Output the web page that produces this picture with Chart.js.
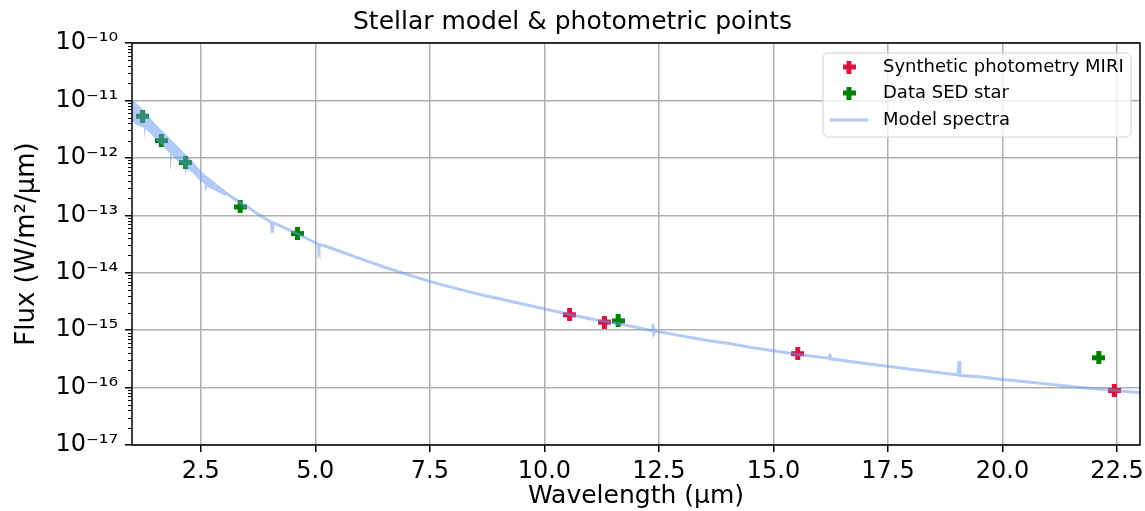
<!DOCTYPE html>
<html>
<head>
<meta charset="utf-8">
<script src="https://cdn.jsdelivr.net/npm/chart.js@4.4.1/dist/chart.umd.min.js"></script>
<style>
  html, body { margin: 0; padding: 0; background: #fff; }
  #wrap { width: 1145px; height: 511px; position: relative; }
</style>
</head>
<body>
<div id="wrap"><canvas id="sedChart"></canvas></div>
<script>
// synthetic MIRI photometry (wavelength in um, flux in W/m2/um)
const synthWave = [10.55, 11.31, 15.53, 22.44];
const synthFlux = [1.85e-15, 1.38e-15, 3.9e-16, 8.9e-17];

// observed SED points of the star
const sedWave = [1.23, 1.64, 2.17, 3.36, 4.61, 11.61, 22.10];
const sedFlux = [5.3e-12, 2.0e-12, 8.3e-13, 1.4e-13, 4.8e-14, 1.45e-15, 3.3e-16];

// model spectrum below 3 um is a dense forest of lines: read as upper / lower envelope (log10 flux)
const bandUpperWave = [1.00, 1.15, 1.30, 1.50, 1.74, 2.00, 2.32, 2.54, 2.80, 3.05];
const bandUpperLogFlux = [-10.98, -11.09, -11.21, -11.40, -11.59, -11.80, -12.06, -12.26, -12.42, -12.58];
const bandLowerWave = [
  1.00, 1.08, 1.26, 1.28, 1.30, 1.41, 1.555, 1.74, 1.83, 1.846, 1.87, 1.955,
  1.98, 2.14, 2.15, 2.17, 2.19, 2.32, 2.46, 2.58, 2.61, 2.64, 2.755, 2.80, 2.97, 3.05
];
const bandLowerLogFlux = [
  -11.36, -11.42, -11.48, -11.68, -11.50, -11.59, -11.71, -11.85, -11.92, -12.20, -11.95, -12.03,
  -12.05, -12.14, -12.15, -12.32, -12.20, -12.26, -12.38, -12.45, -12.61, -12.50, -12.55, -12.56, -12.64, -12.66
];

// model spectrum above 3 um (log10 flux)
const modelWave = [
  3.05, 3.44, 3.46, 3.48, 3.77, 4.04, 4.06, 4.08, 4.50, 5.06,
  5.08, 5.10, 5.23, 6.00, 6.50, 7.00, 7.50, 8.00, 8.75, 9.00,
  9.50, 10.00, 10.50, 11.00, 11.50, 12.00, 12.35, 12.37, 12.39, 12.41,
  12.50, 13.00, 13.50, 14.00, 14.50, 15.00, 15.50, 16.00, 16.22, 16.23,
  16.25, 17.00, 17.50, 18.00, 18.50, 19.03, 19.05, 19.07, 19.50, 20.00,
  20.50, 21.00, 21.50, 22.00, 22.50, 23.00
];
const modelLogFlux = [
  -12.61, -12.82, -12.86, -12.83, -12.99, -13.12, -13.30, -13.13, -13.28, -13.50,
  -13.57, -13.51, -13.54, -13.76, -13.90, -14.03, -14.15, -14.26, -14.41, -14.45,
  -14.54, -14.63, -14.72, -14.80, -14.87, -14.95, -15.01, -14.89, -15.05, -15.01,
  -15.03, -15.10, -15.17, -15.23, -15.30, -15.36, -15.42, -15.47, -15.49, -15.41,
  -15.50, -15.58, -15.63, -15.68, -15.73, -15.78, -15.54, -15.79, -15.81, -15.86,
  -15.90, -15.94, -15.98, -16.02, -16.05, -16.09
];

const xTickValues = [2.5, 5.0, 7.5, 10.0, 12.5, 15.0, 17.5, 20.0, 22.5];
const yTickValues = [1e-17, 1e-16, 1e-15, 1e-14, 1e-13, 1e-12, 1e-11, 1e-10];
const yTickLabels = ['10⁻¹⁷', '10⁻¹⁶', '10⁻¹⁵', '10⁻¹⁴', '10⁻¹³', '10⁻¹²', '10⁻¹¹', '10⁻¹⁰'];

const seriesNames = ['Synthetic photometry MIRI', 'Data SED star', 'Model spectra'];
const red = '#DC143C';
const green = '#008000';
const modelColor = 'rgba(100,149,237,0.5)';

Chart.defaults.font.family = 'DejaVu Sans';
Chart.defaults.color = '#000';

// filled plus marker like matplotlib "P"
function plusMarker(color) {
  const c = document.createElement('canvas');
  const s = 13, t = 5;
  c.width = s; c.height = s;
  const g = c.getContext('2d');
  g.fillStyle = color;
  const a = (s - t) / 2;
  g.fillRect(a, 0, t, s);
  g.fillRect(0, a, s, t);
  return c;
}
const redPlus = plusMarker(red);
const greenPlus = plusMarker(green);

const toPoints = (xs, ys) => xs.map((x, i) => ({ x: x, y: ys[i] }));
const fromLog = (xs, ls) => toPoints(xs, ls.map(v => Math.pow(10, v)));

// closed outline of the line-forest band: upper edge forward, lower edge back
const bandPoints = fromLog(bandUpperWave, bandUpperLogFlux)
  .concat(fromLog(bandLowerWave, bandLowerLogFlux).reverse());

// y ticks: decades as majors, 2..9 as minors
const yTicks = [];
yTickValues.forEach((v, i) => {
  yTicks.push({ value: v, major: true, label: yTickLabels[i] });
  if (i < yTickValues.length - 1) {
    for (let k = 2; k <= 9; k++) yTicks.push({ value: k * v, major: false, label: '' });
  }
});

const framePlugin = {
  id: 'frame',
  afterDraw(chart) {
    const { ctx, chartArea: a } = chart;
    const ys = chart.scales.y;
    ctx.save();
    // minor ticks on y
    ctx.strokeStyle = '#000';
    ctx.lineWidth = 1;
    ys.ticks.forEach(t => {
      if (t.major) return;
      const py = Math.round(ys.getPixelForValue(t.value)) + 0.5;
      ctx.beginPath();
      ctx.moveTo(a.left - 4, py);
      ctx.lineTo(a.left, py);
      ctx.stroke();
    });
    // axes box
    ctx.lineWidth = 1.5;
    ctx.strokeRect(a.left, a.top, a.right - a.left, a.bottom - a.top);

    // legend box
    const bx = 823, by = 53, bw = 308, bh = 84, r = 5;
    ctx.beginPath();
    ctx.moveTo(bx + r, by);
    ctx.arcTo(bx + bw, by, bx + bw, by + bh, r);
    ctx.arcTo(bx + bw, by + bh, bx, by + bh, r);
    ctx.arcTo(bx, by + bh, bx, by, r);
    ctx.arcTo(bx, by, bx + bw, by, r);
    ctx.closePath();
    ctx.fillStyle = 'rgba(255,255,255,0.8)';
    ctx.fill();
    ctx.lineWidth = 1;
    ctx.strokeStyle = '#d0d0d0';
    ctx.stroke();

    const rows = [67, 93, 120];
    ctx.drawImage(redPlus, 849 - 6.5, rows[0] - 6.5);
    ctx.drawImage(greenPlus, 849 - 6.5, rows[1] - 6.5);
    ctx.strokeStyle = modelColor;
    ctx.lineWidth = 3;
    ctx.beginPath();
    ctx.moveTo(830, rows[2]);
    ctx.lineTo(868, rows[2]);
    ctx.stroke();
    ctx.fillStyle = '#000';
    ctx.font = '18px "DejaVu Sans"';
    ctx.textBaseline = 'middle';
    ctx.textAlign = 'left';
    seriesNames.forEach((n, i) => ctx.fillText(n, 883, rows[i]));
    ctx.restore();
  }
};

new Chart(document.getElementById('sedChart'), {
  type: 'scatter',
  data: {
    datasets: [
      {
        label: seriesNames[0],
        data: toPoints(synthWave, synthFlux),
        pointStyle: redPlus,
        backgroundColor: red,
        borderColor: red,
        order: 1
      },
      {
        label: seriesNames[1],
        data: toPoints(sedWave, sedFlux),
        pointStyle: greenPlus,
        backgroundColor: green,
        borderColor: green,
        order: 2
      },
      {
        label: seriesNames[2],
        type: 'line',
        data: fromLog(modelWave, modelLogFlux),
        borderColor: modelColor,
        borderWidth: 3,
        borderCapStyle: 'butt',
        pointRadius: 0,
        tension: 0,
        fill: false,
        order: 0
      },
      {
        label: seriesNames[2] + ' (band)',
        type: 'line',
        data: bandPoints,
        borderColor: 'rgba(0,0,0,0)',
        borderWidth: 0,
        backgroundColor: modelColor,
        pointRadius: 0,
        tension: 0,
        fill: 'shape',
        order: 0
      }
    ]
  },
  options: {
    responsive: true,
    maintainAspectRatio: false,
    devicePixelRatio: 1,
    animation: false,
    layout: { padding: { left: 5, right: 5, top: 0, bottom: 0 } },
    plugins: {
      legend: { display: false },
      tooltip: { enabled: false },
      title: {
        display: true,
        text: 'Stellar model & photometric points',
        font: { size: 25, weight: 'normal', lineHeight: 1.2 },
        color: '#000',
        padding: { top: 7, bottom: 6 }
      }
    },
    scales: {
      x: {
        type: 'linear',
        min: 1.0,
        max: 23.0,
        bounds: 'data',
        border: { display: false },
        afterBuildTicks: scale => { scale.ticks = xTickValues.map(v => ({ value: v })); },
        afterFit: scale => {
          scale.height = 66;
          scale.paddingLeft = 0;
          scale.paddingRight = 0;
        },
        grid: { color: '#b0b0b0', lineWidth: 1.5, tickLength: 7, tickColor: '#000', tickWidth: 1.5 },
        ticks: {
          autoSkip: false,
          maxRotation: 0,
          padding: 8,
          font: { size: 24, lineHeight: 1 },
          callback: v => v.toFixed(1)
        },
        title: {
          display: true,
          text: 'Wavelength (μm)',
          font: { size: 25, lineHeight: 1 },
          padding: { top: 0, bottom: 2 }
        }
      },
      y: {
        type: 'logarithmic',
        min: 1e-17,
        max: 1e-10,
        bounds: 'data',
        border: { display: false },
        afterBuildTicks: scale => { scale.ticks = yTicks.map(t => ({ value: t.value, major: t.major })); },
        afterFit: scale => {
          scale.width = 127;
          scale.paddingTop = 0;
          scale.paddingBottom = 0;
        },
        grid: {
          color: c => (c.tick && c.tick.major ? '#b0b0b0' : 'rgba(0,0,0,0)'),
          tickColor: c => (c.tick && c.tick.major ? '#000' : 'rgba(0,0,0,0)'),
          lineWidth: 1.5,
          tickWidth: 1.5,
          tickLength: 7
        },
        ticks: {
          autoSkip: false,
          padding: 7,
          font: { size: 24, lineHeight: 1 },
          callback: (v, i) => yTicks[i].label
        },
        title: {
          display: true,
          text: 'Flux (W/m²/μm)',
          font: { size: 26, lineHeight: 1 },
          padding: { top: 9, bottom: 0 }
        }
      }
    }
  },
  plugins: [framePlugin]
});
</script>
</body>
</html>
